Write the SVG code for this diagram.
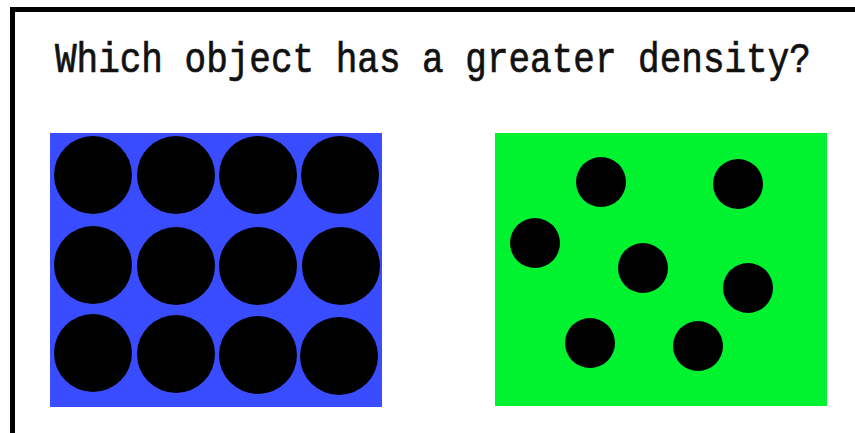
<svg xmlns="http://www.w3.org/2000/svg" width="855" height="433" viewBox="0 0 855 433">
<style>
.dot{fill:#000}
.title{font-family:"Liberation Mono","DejaVu Sans Mono",monospace;font-size:36px;fill:#111;stroke:#111;stroke-width:0.6}
</style>
<rect x="0" y="0" width="855" height="433" fill="#fff"/>
<g id="frame">
<rect x="10" y="7" width="845" height="5" fill="#000"/>
<rect x="10" y="7" width="5" height="426" fill="#000"/>
</g>
<g id="title" transform="translate(0,72) scale(1,1.2)">
<text class="title" x="55" y="0">Which object has a greater density?</text>
</g>
<g id="dense">
<rect x="50" y="133" width="332" height="274" fill="#3a4cff"/>
<circle class="dot" cx="93" cy="175" r="39"/>
<circle class="dot" cx="176" cy="175" r="39"/>
<circle class="dot" cx="258" cy="175" r="39"/>
<circle class="dot" cx="340" cy="175" r="39"/>
<circle class="dot" cx="93" cy="265" r="39"/>
<circle class="dot" cx="176" cy="266" r="39"/>
<circle class="dot" cx="258" cy="266" r="39"/>
<circle class="dot" cx="341" cy="266" r="39"/>
<circle class="dot" cx="93" cy="353" r="39"/>
<circle class="dot" cx="176" cy="354" r="39"/>
<circle class="dot" cx="258" cy="355" r="39"/>
<circle class="dot" cx="339" cy="356" r="39"/>
</g>
<g id="sparse">
<rect x="495" y="133" width="332" height="273" fill="#00f32e"/>
<circle class="dot" cx="601" cy="182" r="25"/>
<circle class="dot" cx="738" cy="184" r="25"/>
<circle class="dot" cx="535" cy="243" r="25"/>
<circle class="dot" cx="643" cy="268" r="25"/>
<circle class="dot" cx="748" cy="288" r="25"/>
<circle class="dot" cx="590" cy="343" r="25"/>
<circle class="dot" cx="698" cy="346" r="25"/>
</g>
</svg>
